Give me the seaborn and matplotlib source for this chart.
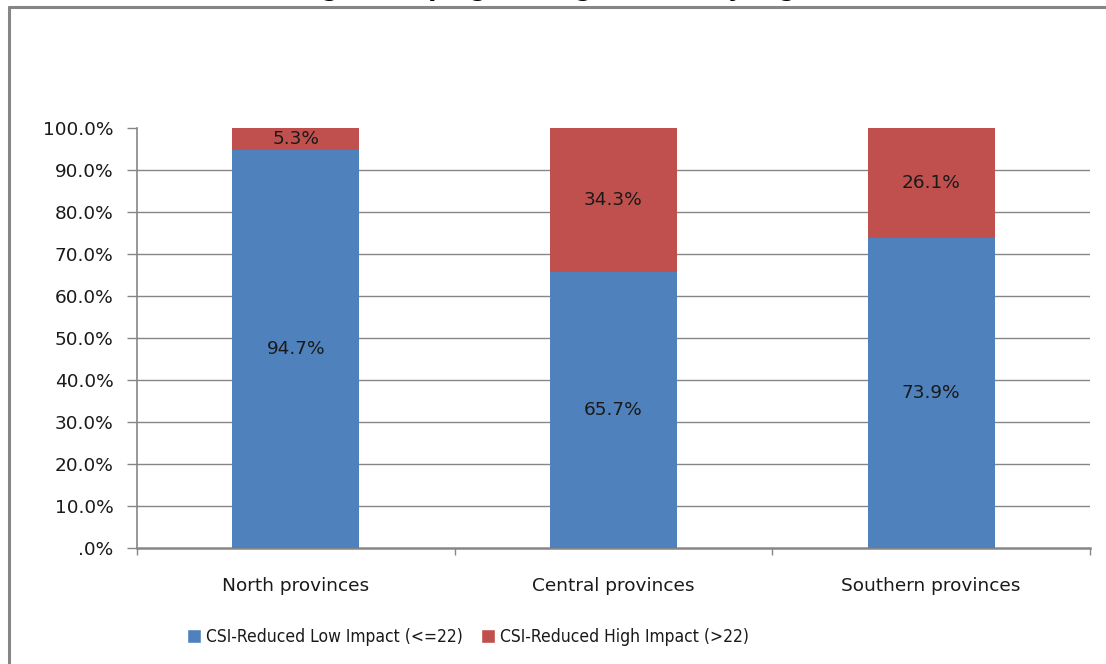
import numpy as np
import pandas as pd
import matplotlib
matplotlib.use("Agg")
import matplotlib.pyplot as plt
from matplotlib.patches import Patch
from matplotlib.lines import Line2D
import seaborn as sns

# data
regions = ["North provinces", "Central provinces", "Southern provinces"]
low_impact = [94.7, 65.7, 73.9]
high_impact = [5.3, 34.3, 26.1]
series_names = ["CSI-Reduced Low Impact (<=22)", "CSI-Reduced High Impact (>22)"]
y_ticks = [0, 10, 20, 30, 40, 50, 60, 70, 80, 90, 100]
y_tick_labels = [".0%", "10.0%", "20.0%", "30.0%", "40.0%", "50.0%",
                 "60.0%", "70.0%", "80.0%", "90.0%", "100.0%"]
title = "Percentage of coping strategies used by region"

BLUE = "#4F81BD"
RED = "#C0504D"
GREY = "#868686"
TXT = "#1a1a1a"

sns.set_style("white")
plt.rcParams["font.family"] = ["DejaVu Sans"]

df = pd.DataFrame({"region": regions, "low": low_impact, "high": high_impact})
df["total"] = df["low"] + df["high"]

fig = plt.figure(figsize=(11.06, 6.64), dpi=100)
ax = fig.add_axes([137 / 1106, 1 - 548 / 664, (1090 - 137) / 1106, 420 / 664])

# stacked bars: full height in red, low part in blue on top of it
sns.barplot(data=df, x="region", y="total", color=RED, width=0.4,
            saturation=1, linewidth=0, ax=ax, zorder=3)
sns.barplot(data=df, x="region", y="low", color=BLUE, width=0.4,
            saturation=1, linewidth=0, ax=ax, zorder=4)

for i, (lo, hi) in enumerate(zip(low_impact, high_impact)):
    ax.text(i, lo / 2, f"{lo:.1f}%", ha="center", va="center",
            fontsize=13.3, color=TXT, zorder=5)
    ax.text(i, lo + hi / 2, f"{hi:.1f}%", ha="center", va="center",
            fontsize=13.3, color=TXT, zorder=5)

ax.set_xlim(-0.5, 2.5)
ax.set_ylim(0, 100)
ax.set_yticks(y_ticks)
ax.set_yticklabels(y_tick_labels, fontsize=13.3, color=TXT)
ax.set_xticks(range(len(regions)))
ax.set_xticklabels(regions, fontsize=13.3, color=TXT)
ax.set_xticks([-0.5, 0.5, 1.5, 2.5], minor=True)
ax.tick_params(axis="x", which="major", length=0, pad=21)
ax.tick_params(axis="x", which="minor", length=5, width=1, color=GREY,
               direction="out", bottom=True)
ax.tick_params(axis="y", length=7, width=1, color=GREY, direction="out",
               left=True, pad=10)
ax.set_xlabel("")
ax.set_ylabel("")

for y in y_ticks[1:-1]:
    ax.axhline(y, color=GREY, lw=1, zorder=1)

sns.despine(ax=ax, top=True, right=True)
ax.spines["left"].set_color(GREY)
ax.spines["bottom"].set_color(GREY)
ax.spines["left"].set_linewidth(1.2)
ax.spines["bottom"].set_linewidth(1.8)

handles = [Patch(facecolor=BLUE), Patch(facecolor=RED)]
fig.legend(handles, series_names, loc="center", bbox_to_anchor=(468 / 1106, 1 - 637 / 664),
           ncol=2, frameon=False, handlelength=0.8,
           handleheight=0.8, handletextpad=0.3, columnspacing=1.0,
           labelcolor=TXT,
           prop={"family": "DejaVu Sans", "stretch": "condensed", "size": 12.5})

# chart-area border (only top and left edges are in the crop)
fig.add_artist(Line2D([9 / 1106, 1.01], [1 - 7 / 664, 1 - 7 / 664],
                      transform=fig.transFigure, color=GREY, lw=2.2))
fig.add_artist(Line2D([9 / 1106, 9 / 1106], [-0.01, 1 - 7 / 664],
                      transform=fig.transFigure, color=GREY, lw=2.2))

# title sits almost entirely above the crop, only descenders show
fig.text(520 / 1106, 1 + 4 / 664, title, ha="center", va="baseline",
         fontsize=17, fontweight="bold", color="black")

fig.savefig("out.png", dpi=100)
